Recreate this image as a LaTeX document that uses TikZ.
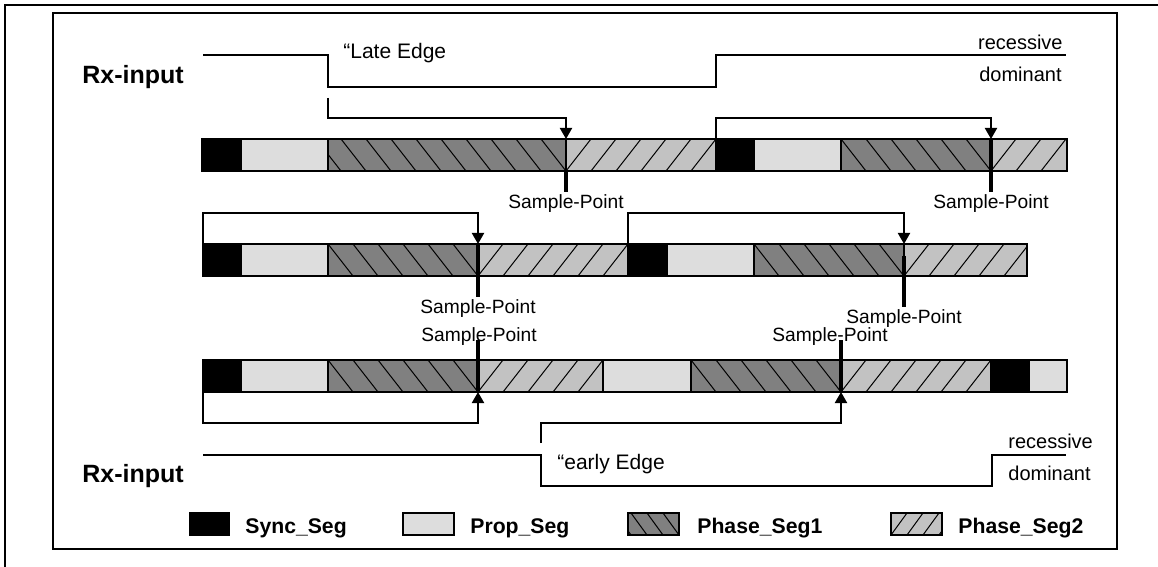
\documentclass[tikz,border=0pt]{standalone}
\usepackage{fontspec}
\setmainfont{Liberation Sans}
\usetikzlibrary{arrows.meta,positioning,calc}
\definecolor{SyncBlack}{RGB}{0,0,0}
\definecolor{PropGray}{RGB}{221,221,221}
\definecolor{PhaseOneGray}{RGB}{128,128,128}
\definecolor{PhaseTwoGray}{RGB}{194,194,194}
\tikzset{
  segbox/.style={draw=black,line width=0.7pt},
  hatch/.style={black,line width=0.5pt},
  rxline/.style={black,line width=1pt},
  resync/.style={black,line width=1pt},
  resyncarr/.style={-{Triangle[length=5.5pt,width=6pt]},black,line width=1pt},
  smpmark/.style={black,line width=2.2pt},
  smplbl/.style={font=\fontsize{9.6}{11}\selectfont,inner sep=0pt},
  edgelbl/.style={font=\fontsize{10.5}{12}\selectfont,inner sep=0pt},
  levellbl/.style={font=\fontsize{10}{12}\selectfont,inner sep=0pt},
  rxlbl/.style={font=\bfseries\fontsize{12.5}{14}\selectfont,inner sep=0pt},
  leglbl/.style={font=\bfseries\fontsize{10.6}{12}\selectfont,inner sep=0pt},
}
% segment macros: {x1}{x2}{top}{bottom}{hatch step}
\newcommand{\segSync}[5]{\filldraw[segbox,fill=SyncBlack] (#1,#3) rectangle (#2,#4);}
\newcommand{\segProp}[5]{\filldraw[segbox,fill=PropGray] (#1,#3) rectangle (#2,#4);}
\newcommand{\segPhaseA}[5]{%
  \fill[PhaseOneGray] (#1,#3) rectangle (#2,#4);
  \begin{scope}
    \clip (#1,#3) rectangle (#2,#4);
    \foreach \k in {0,...,12}
      \draw[hatch] (#2-\k*#5-#5,#3) -- (#2-\k*#5,#4);
  \end{scope}
  \draw[segbox] (#1,#3) rectangle (#2,#4);}
\newcommand{\segPhaseB}[5]{%
  \fill[PhaseTwoGray] (#1,#3) rectangle (#2,#4);
  \begin{scope}
    \clip (#1,#3) rectangle (#2,#4);
    \foreach \k in {0,...,12}
      \draw[hatch] (#1+\k*#5,#4) -- (#1+\k*#5+#5,#3);
  \end{scope}
  \draw[segbox] (#1,#3) rectangle (#2,#4);}

\begin{document}
\begin{tikzpicture}[x=0.5pt,y=-0.5pt]
  \useasboundingbox (0,0) rectangle (1158,567);
  % frames
  \draw[line width=0.6pt] (5,567) -- (5,5) -- (1158,5);
  \draw[line width=1.2pt] (53,13) rectangle (1117,549);

  % upper Rx-input, late edge
  \node[rxlbl,anchor=base west] (rxtop) at (82,84) {Rx-input};
  \draw[rxline] (203,55) -- (328,55) -- (328,87) -- (716,87) -- (716,55) -- (1066,55);
  \node[edgelbl,anchor=base west] (late) at (343,59) {“Late Edge};
  \node[levellbl,anchor=base east] (rectop) at (1063,50) {recessive};
  \node[levellbl,anchor=base east] (domtop) at (1062,82) {dominant};

  % row 1
  \segSync{202}{241}{139}{171}{25}
  \segProp{241}{328}{139}{171}{25}
  \segPhaseA{328}{566}{139}{171}{25}
  \segPhaseB{566}{716}{139}{171}{25}
  \segSync{716}{754}{139}{171}{25}
  \segProp{754}{841}{139}{171}{25}
  \segPhaseA{841}{991}{139}{171}{25}
  \segPhaseB{991}{1067}{139}{171}{25}

  % row 2
  \segSync{203}{241}{244}{276}{25}
  \segProp{241}{328}{244}{276}{25}
  \segPhaseA{328}{478}{244}{276}{25}
  \segPhaseB{478}{628}{244}{276}{25}
  \segSync{628}{667}{244}{276}{25}
  \segProp{667}{754}{244}{276}{25}
  \segPhaseA{754}{904}{244}{276}{25}
  \segPhaseB{904}{1027}{244}{276}{25}

  % row 3
  \segSync{203}{241}{360}{392}{25}
  \segProp{241}{328}{360}{392}{25}
  \segPhaseA{328}{478}{360}{392}{25}
  \segPhaseB{478}{603}{360}{392}{25}
  \segProp{603}{691}{360}{392}{25}
  \segPhaseA{691}{841}{360}{392}{25}
  \segPhaseB{841}{991}{360}{392}{25}
  \segSync{991}{1029}{360}{392}{25}
  \segProp{1029}{1067}{360}{392}{25}

  % resync points
  \coordinate (edgeA) at (328,98);   \coordinate (cornerA) at (566,118); \coordinate (spA) at (566,139);
  \coordinate (edgeB) at (716,139);  \coordinate (cornerB) at (991,118); \coordinate (spB) at (991,139);
  \coordinate (edgeC) at (203,244);  \coordinate (cornerC) at (478,213); \coordinate (spC) at (478,244);
  \coordinate (edgeD) at (628,244);  \coordinate (cornerD) at (904,213); \coordinate (spD) at (904,244);
  \coordinate (edgeE) at (203,392);  \coordinate (cornerE) at (478,423); \coordinate (spE) at (478,392);
  \coordinate (edgeF) at (541,443);  \coordinate (cornerF) at (841,423); \coordinate (spF) at (841,392);

  \draw[resyncarr] (edgeA) |- (cornerA) -- (spA);
  \draw[resyncarr] (edgeB) |- (cornerB) -- (spB);
  \draw[resyncarr] (edgeC) |- (cornerC) -- (spC);
  \draw[resyncarr] (edgeD) |- (cornerD) -- (spD);
  \draw[resyncarr] (edgeE) |- (cornerE) -- (spE);
  \draw[resyncarr] (edgeF) |- (cornerF) -- (spF);

  % sample point markers
  \coordinate (smpA) at (566,192);
  \coordinate (smpB) at (991,192);
  \coordinate (smpC) at (478,297);
  \coordinate (smpD) at (904,307);
  \draw[smpmark] (566,171) -- (smpA);
  \draw[smpmark] (991,139) -- (smpB);
  \draw[smpmark] (478,244) -- (smpC);
  \draw[smpmark] (904,256) -- (smpD);
  \draw[smpmark] (478,340) -- (spE);
  \draw[smpmark] (841,340) -- (spF);
  \node[smplbl,below=1pt of smpA] (lblA) {Sample-Point};
  \node[smplbl,below=1pt of smpB] (lblB) {Sample-Point};
  \node[smplbl,below=1pt of smpC] (lblC) {Sample-Point};
  \node[smplbl,below=1pt of smpD] (lblD) {Sample-Point};
  \node[smplbl,anchor=base] (lblE) at (479,342) {Sample-Point};
  \node[smplbl,anchor=base] (lblF) at (830,342) {Sample-Point};

  % lower Rx-input, early edge
  \node[rxlbl,anchor=base west] (rxbot) at (82,482) {Rx-input};
  \draw[rxline] (203,455) -- (541,455) -- (541,486) -- (992,486) -- (992,455) -- (1066,455);
  \node[edgelbl,anchor=base west] (early) at (557,469) {“early Edge};
  \node[levellbl,anchor=base west] (recbot) at (1008,448) {recessive};
  \node[levellbl,anchor=base west] (dombot) at (1008,480) {dominant};

  % legend
  \segSync{190}{229}{513}{535}{16}
  \segProp{403}{454}{513}{535}{16}
  \segPhaseA{628}{679}{513}{535}{16}
  \segPhaseB{891}{942}{513}{535}{16}
  \node[leglbl,anchor=base west] (legsync) at (245,533) {Sync\_Seg};
  \node[leglbl,anchor=base west] (legprop) at (470,533) {Prop\_Seg};
  \node[leglbl,anchor=base west] (legph1) at (697,533) {Phase\_Seg1};
  \node[leglbl,anchor=base west] (legph2) at (958,533) {Phase\_Seg2};
\end{tikzpicture}
\end{document}
